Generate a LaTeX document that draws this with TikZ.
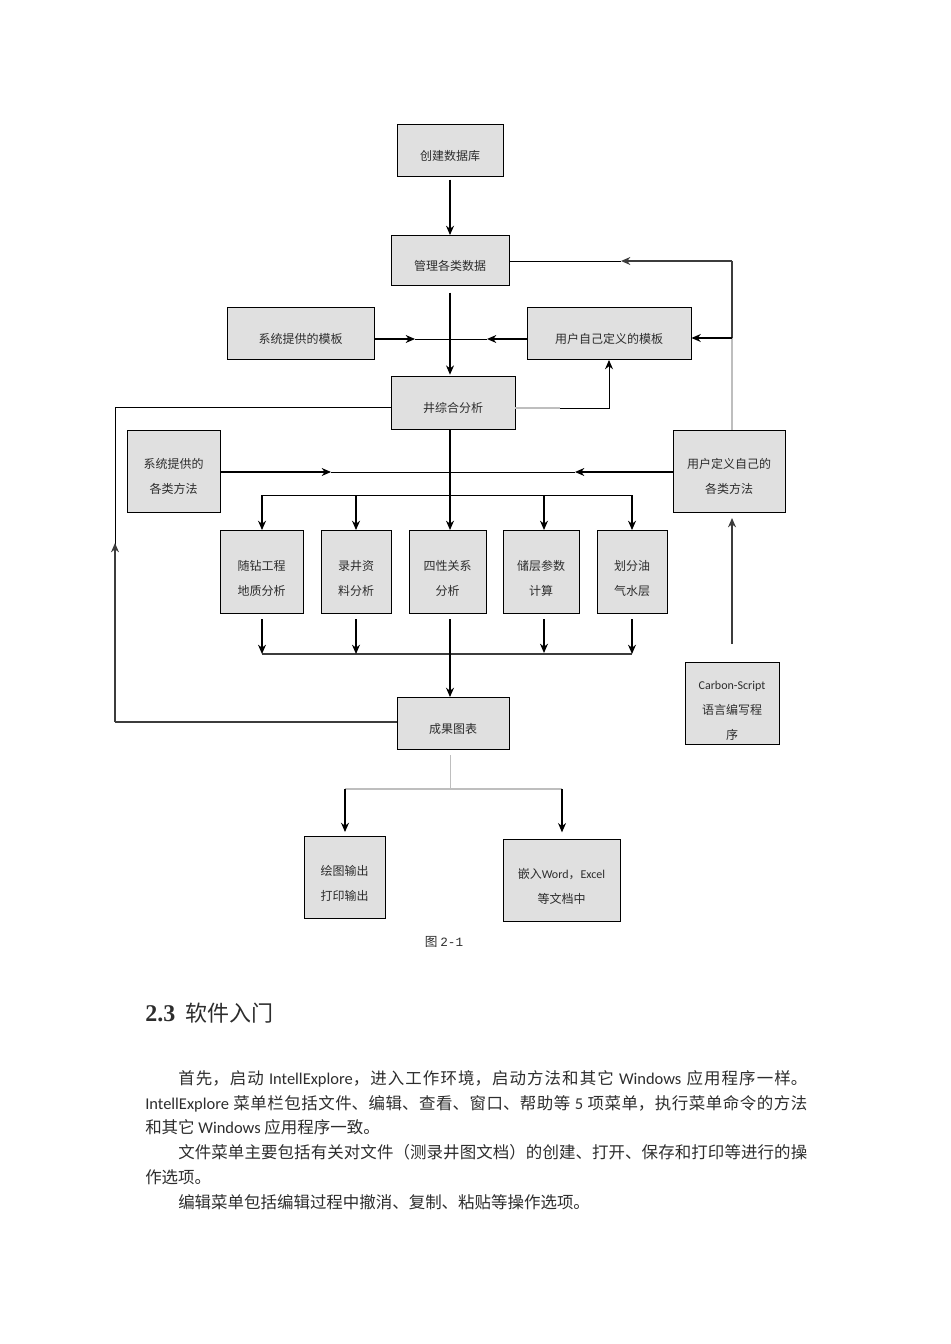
\documentclass[tikz,border=0pt]{standalone}
\usepackage{fontspec}
\setmainfont{Noto Sans CJK SC}
\newfontfamily\cstlat{Carlito}
\newfontfamily\cstserif{Liberation Serif}
\newfontfamily\cstmono{Liberation Mono}
\usetikzlibrary{
	arrows.meta,
	positioning
}
\definecolor{main}{RGB}{224,224,224}
\definecolor{second}{RGB}{60,60,60}
\definecolor{third}{RGB}{190,190,190}
\definecolor{fourth}{RGB}{45,45,45}
\XeTeXlinebreaklocale "zh"
\XeTeXlinebreakskip=0pt plus 1pt
\newcommand{\cstrows}[2]{\begin{tabular}{@{}c@{}}\rule{0pt}{#1}#2\end{tabular}}
\tikzset{
  % arrow
	cstra/.style      ={-{Stealth[length=7pt,width=6pt]}, line width=0.9pt},
	cstline/.style    ={line width=0.7pt},
	cstdark/.style    ={line width=0.8pt,second},
	cstpale/.style    ={line width=0.8pt,third},
  % node
	cstsize/.style 2 args ={minimum width=#1*0.75pt,minimum height=#2*0.75pt},
	cstbox/.style     ={fill=main,draw=black,line width=0.7pt,inner sep=0pt,text=fourth,
		font=\fontsize{9}{18.75}\selectfont},
	csttext/.style    ={inner sep=0pt,text=fourth}
}
\begin{document}
\begin{tikzpicture}[x=0.75pt,y=-0.75pt]
	\useasboundingbox (0,0) rectangle (950,1344);
	% boxes
	\node[cstbox,cstsize={106}{52}] (create) at (450,150.5) {\cstrows{20pt}{创建数据库}};
	\node[cstbox,cstsize={118}{50}] (manage) at (450,260.5) {\cstrows{20pt}{管理各类数据}};
	\node[cstbox,cstsize={147}{52}] (systpl) at (300.5,333.5) {\cstrows{20pt}{系统提供的模板}};
	\node[cstbox,cstsize={164}{52}] (usertpl) at (609,333.5) {\cstrows{20pt}{用户自己定义的模板}};
	\node[cstbox,cstsize={124}{53}] (well) at (453,403) {\cstrows{20pt}{井综合分析}};
	\node[cstbox,cstsize={93}{82}] (sysway) at (173.5,471.5) {\cstrows{20pt}{系统提供的\\各类方法}};
	\node[cstbox,cstsize={112}{82}] (userway) at (729,471.5) {\cstrows{20pt}{用户定义自己的\\各类方法}};
	\node[cstbox,cstsize={83}{83}] (drill) at (261.5,572) {\cstrows{22pt}{随钻工程\\地质分析}};
	\node[cstbox,cstsize={70}{83}] (log) at (356,572) {\cstrows{22pt}{录井资\\料分析}};
	\node[cstbox,cstsize={77}{83}] (four) at (447.5,572) {\cstrows{22pt}{四性关系\\分析}};
	\node[cstbox,cstsize={76}{83}] (store) at (541,572) {\cstrows{22pt}{储层参数\\计算}};
	\node[cstbox,cstsize={70}{83}] (layer) at (632,572) {\cstrows{22pt}{划分油\\气水层}};
	\node[cstbox,cstsize={94}{82}] (script) at (732,703.5) {\raisebox{-7pt}[28pt][28pt]{\cstrows{0pt}{{\cstlat Carbon-Script}\\语言编写程\\序}}};
	\node[cstbox,cstsize={112}{52}] (result) at (453,723.5) {\cstrows{20pt}{成果图表}};
	\node[cstbox,cstsize={81}{82}] (plot) at (344.5,877.5) {\cstrows{21pt}{绘图输出\\打印输出}};
	\node[cstbox,cstsize={117}{82}] (embed) at (561.5,880.5) {\cstrows{21pt}{嵌入{\cstlat Word}，{\cstlat Excel}\\等文档中}};
	% free ends
	\coordinate (tplleft) at (415,339);
	\coordinate (tplright) at (487,339);
	\coordinate (backtop) at (732,261);
	\coordinate (backmid) at (732,338);
	\coordinate (backarrow) at (621,261);
	\coordinate (wellturn) at (609,408);
	\coordinate (wayleft) at (331,472);
	\coordinate (wayright) at (575,472);
	\coordinate (leftup) at (115,407);
	\coordinate (leftdown) at (115,722);
	\coordinate (leftarrow) at (115,543);
	\coordinate (topbusl) at (262,495);
	\coordinate (topbusr) at (632,495);
	\coordinate (lowbusl) at (262,654);
	\coordinate (lowbusr) at (632,654);
	\coordinate (outbusl) at (345,789);
	\coordinate (outbusr) at (562,789);
	\coordinate (outtop) at (450,755);
	\coordinate (outmid) at (450,789);
	% upper part
	\draw[cstra,shorten <=2pt] (create) -- (manage);
	\draw[cstra,shorten <=5pt,shorten >=1pt] (manage) -- (manage |- well.north);
	\draw[cstra] (systpl.east |- tplleft) -- (tplleft);
	\draw[cstra] (usertpl.west |- tplright) -- (tplright);
	\draw[cstline] (tplleft) -- (tplright);
	\draw[cstline] (manage.east |- backarrow) -- (backarrow);
	\draw[cstra,second] (backtop) -- (backarrow);
	\draw[cstdark] (backtop) -- (backmid);
	\draw[cstpale] (backmid) -- (userway.north -| backmid);
	\draw[cstra] (backmid) -- (usertpl.east |- backmid);
	\draw[cstpale] (well.east |- wellturn) -- (560,408);
	\draw[cstra,line width=0.7pt] (560,408) -- (wellturn) -- (usertpl.south);
	\draw[cstline] (well.west |- leftup) -- (leftup) -- (leftdown);
	\draw[cstra,second] (leftdown) -- (leftarrow);
	\draw[cstdark] (result.west |- leftdown) -- (leftdown);
	% methods
	\draw[cstra] (sysway.east |- wayleft) -- (wayleft);
	\draw[cstra] (userway.west |- wayright) -- (wayright);
	\draw[cstline] (wayleft) -- (wayright);
	% top bus
	\draw[cstra] (well.south -| 450,0) -- (450,530);
	\draw[cstline] (topbusl) -- (topbusr);
	\draw[cstra] (topbusl) -- (drill.north -| topbusl);
	\draw[cstra] (log.north |- topbusl) -- (log);
	\draw[cstra] (544,495) -- (544,530);
	\draw[cstra] (topbusr) -- (layer);
	% low bus
	\draw[cstdark,line width=1pt] (lowbusl) -- (lowbusr);
	\draw[cstra,shorten <=4pt] (drill.south -| lowbusl) -- (lowbusl);
	\draw[cstra,shorten <=4pt] (log) -- (log |- lowbusl);
	\draw[cstra,shorten <=4pt] (544,614) -- (544,653);
	\draw[cstra,shorten <=4pt] (layer) -- (layer |- lowbusr);
	\draw[cstra,shorten <=4pt] (450,614) -- (result.north -| 450,0);
	% script
	\draw[cstra,second,line width=1pt] (732,644) -- (732,518);
	% output
	\draw[third,line width=0.6pt] (outtop) -- (outmid);
	\draw[cstpale] (outbusl) -- (outbusr);
	\draw[cstra,shorten >=3pt] (outbusl) -- (plot.north -| outbusl);
	\draw[cstra,shorten >=5pt] (outbusr) -- (embed.north -| outbusr);
	% caption and text
	\node[csttext,font=\fontsize{9.5}{12}\selectfont] (caption) at (444,942) {图 {\cstmono 2-1}};
	\node[csttext,anchor=west,font=\fontsize{16.5}{18}\selectfont] (head) at (145,1013) {{\cstserif\bfseries\fontsize{18}{18}\selectfont 2.3}\hspace{8pt}软件入门};
	\node[csttext,anchor=north west,text width=662*0.75pt,align=justify,font=\fontsize{12.35}{18.6}\selectfont] (body) at (145,1070) {%
		\hspace*{33\dimexpr 0.75pt\relax}首先，启动 {\cstlat IntellExplore}，进入工作环境，启动方法和其它 {\cstlat Windows} 应用程序一样。\linebreak
		{\cstlat IntellExplore} 菜单栏包括文件、编辑、查看、窗口、帮助等 {\cstlat 5} 项菜单，执行菜单命令的方法\linebreak
		和其它 {\cstlat Windows} 应用程序一致。\par
		\hspace*{33\dimexpr 0.75pt\relax}文件菜单主要包括有关对文件（测录井图文档）的创建、打开、保存和打印等进行的操\linebreak
		作选项。\par
		\hspace*{33\dimexpr 0.75pt\relax}编辑菜单包括编辑过程中撤消、复制、粘贴等操作选项。};
\end{tikzpicture}
\end{document}
